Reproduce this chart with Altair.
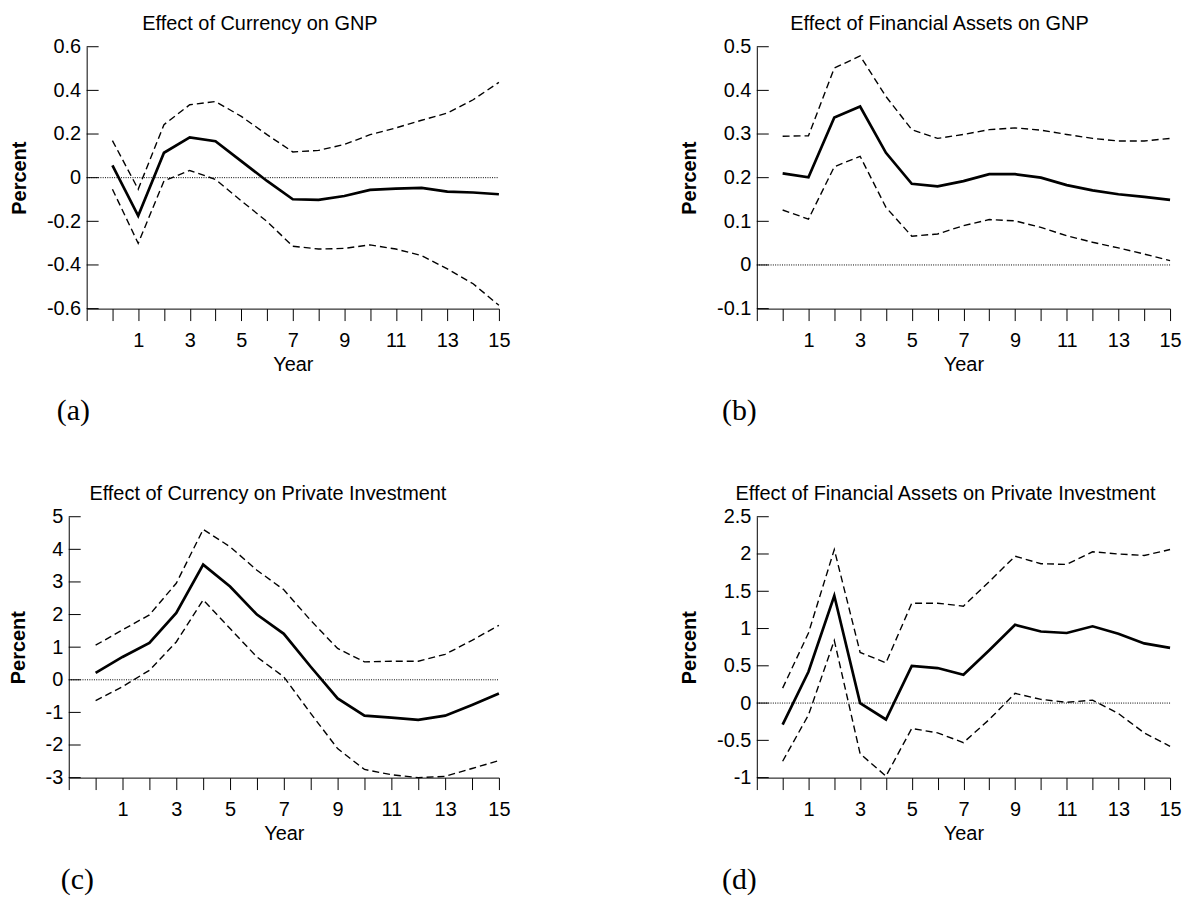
import altair as alt
import pandas as pd

YEARS = list(range(16))

A_MID = [0.056, -0.175, 0.114, 0.185, 0.167, 0.076, -0.015, -0.099, -0.102, -0.084, -0.056, -0.050, -0.047, -0.064, -0.068, -0.076]
A_HI = [0.170, -0.053, 0.243, 0.334, 0.349, 0.281, 0.197, 0.118, 0.125, 0.152, 0.197, 0.228, 0.263, 0.296, 0.357, 0.437]
A_LO = [-0.053, -0.301, -0.015, 0.033, -0.008, -0.106, -0.201, -0.314, -0.327, -0.324, -0.308, -0.327, -0.357, -0.418, -0.486, -0.585]

B_MID = [0.210, 0.201, 0.338, 0.363, 0.257, 0.186, 0.180, 0.192, 0.208, 0.208, 0.200, 0.183, 0.171, 0.162, 0.156, 0.149]
B_HI = [0.295, 0.296, 0.451, 0.479, 0.386, 0.310, 0.290, 0.299, 0.310, 0.314, 0.309, 0.299, 0.290, 0.284, 0.284, 0.290]
B_LO = [0.126, 0.105, 0.225, 0.249, 0.132, 0.066, 0.071, 0.090, 0.104, 0.101, 0.086, 0.067, 0.052, 0.039, 0.025, 0.010]

C_MID = [0.21, 0.70, 1.13, 2.05, 3.53, 2.86, 2.00, 1.41, 0.40, -0.57, -1.10, -1.16, -1.23, -1.10, -0.77, -0.42]
C_HI = [1.06, 1.53, 1.99, 2.96, 4.61, 4.08, 3.36, 2.76, 1.82, 0.96, 0.55, 0.57, 0.57, 0.78, 1.21, 1.67]
C_LO = [-0.64, -0.21, 0.29, 1.16, 2.45, 1.57, 0.70, 0.09, -1.03, -2.11, -2.75, -2.91, -3.00, -2.96, -2.72, -2.48]

D_MID = [-0.29, 0.42, 1.44, 0.00, -0.22, 0.50, 0.47, 0.38, 0.71, 1.05, 0.96, 0.94, 1.03, 0.93, 0.80, 0.74]
D_HI = [0.20, 0.94, 2.06, 0.68, 0.54, 1.34, 1.34, 1.30, 1.63, 1.97, 1.87, 1.86, 2.03, 2.00, 1.98, 2.06]
D_LO = [-0.78, -0.16, 0.84, -0.68, -0.98, -0.34, -0.40, -0.53, -0.22, 0.13, 0.05, 0.01, 0.04, -0.14, -0.40, -0.58]

A_TICKS = [-0.6, -0.4, -0.2, 0, 0.2, 0.4, 0.6]
B_TICKS = [-0.1, 0, 0.1, 0.2, 0.3, 0.4, 0.5]
C_TICKS = [-3, -2, -1, 0, 1, 2, 3, 4, 5]
D_TICKS = [-1, -0.5, 0, 0.5, 1, 1.5, 2, 2.5]
X_TICKS = list(range(-1, 16))

TITLES = [
    "Effect of Currency on GNP",
    "Effect of Financial Assets on GNP",
    "Effect of Currency on Private Investment",
    "Effect of Financial Assets on Private Investment",
]
CAPTIONS = ["(a)", "(b)", "(c)", "(d)"]

SANS = "Liberation Sans"
SERIF = "Liberation Serif"


def panel(title, title_dx, mid, lo, hi, yticks, width, height, caption, cap_x, shift=0):
    df = pd.DataFrame({"year": YEARS, "mid": mid, "lo": lo, "hi": hi})
    yscale = alt.Scale(domain=[min(yticks), max(yticks)], nice=False, zero=False)
    xscale = alt.Scale(domain=[-1, 15], nice=False, zero=False, range=[-shift, width])
    xaxis = alt.Axis(
        values=X_TICKS,
        labelExpr="datum.value % 2 == 1 ? datum.label : ''",
        title="Year",
        tickSize=12,
        labelPadding=10,
        titlePadding=4,
        grid=False,
        domainColor="black",
        tickColor="black",
        labelColor="black",
        titleColor="black",
        labelFont=SANS,
        titleFont=SANS,
        labelFontSize=20,
        titleFontSize=20,
        titleFontWeight="normal",
        labelFlush=False,
        labelOverlap=False,
    )
    yaxis = alt.Axis(
        values=yticks,
        labelExpr="(datum.value < 0 ? '-' : '') + format(abs(datum.value), '')",
        title="Percent",
        ticks=False,
        tickSize=0,
        labelPadding=6,
        titlePadding=17,
        offset=shift,
        grid=False,
        domainColor="black",
        labelColor="black",
        titleColor="black",
        labelFont=SANS,
        titleFont=SANS,
        labelFontSize=20,
        titleFontSize=20,
        titleFontWeight="bold",
        labelFlush=False,
        labelOverlap=False,
    )
    X = alt.X("year:Q", scale=xscale, axis=xaxis)
    base = alt.Chart(df)
    hi_l = base.mark_line(color="black", strokeWidth=1.4, strokeDash=[7, 4]).encode(
        x=X, y=alt.Y("hi:Q", scale=yscale, axis=yaxis))
    lo_l = base.mark_line(color="black", strokeWidth=1.4, strokeDash=[7, 4]).encode(
        x=X, y=alt.Y("lo:Q", scale=yscale, axis=yaxis))
    mid_l = base.mark_line(color="black", strokeWidth=2.7).encode(
        x=X, y=alt.Y("mid:Q", scale=yscale, axis=yaxis))
    zero = alt.Chart(pd.DataFrame({"z": [0], "x0": [-1], "x1": [15]})).mark_rule(
        color="black", strokeWidth=1, strokeDash=[1, 1.3]).encode(
        x=alt.X("x0:Q", scale=xscale, axis=xaxis), x2="x1:Q",
        y=alt.Y("z:Q", scale=yscale, axis=yaxis))
    ticks = alt.Chart(pd.DataFrame({"v": yticks})).mark_rule(
        color="black", strokeWidth=1).encode(
        y=alt.Y("v:Q", scale=yscale, axis=yaxis),
        x=alt.value(-shift), x2=alt.value(12 - shift))
    cap = alt.Chart(pd.DataFrame({"t": [caption]})).mark_text(
        font=SERIF, fontSize=30, align="left", baseline="alphabetic", color="black").encode(
        text="t:N", x=alt.value(cap_x), y=alt.value(height + 112))
    return alt.layer(zero, hi_l, lo_l, mid_l, ticks, cap).properties(
        width=width, height=height,
        title=alt.TitleParams(text=title, font=SANS, fontSize=20, fontWeight="normal",
                              color="black", anchor="middle", dx=title_dx,
                              baseline="top", offset=3),
    )


pa = panel(TITLES[0], -33, A_MID, A_LO, A_HI, A_TICKS, 414, 263, CAPTIONS[0], -30)
pb = panel(TITLES[1], -24, B_MID, B_LO, B_HI, B_TICKS, 415, 263, CAPTIONS[1], -35)
pc = panel(TITLES[2], -25, C_MID, C_LO, C_HI, C_TICKS, 414, 262, CAPTIONS[2], -26, shift=18)
pd_ = panel(TITLES[3], -18, D_MID, D_LO, D_HI, D_TICKS, 415, 262, CAPTIONS[3], -35)

chart = alt.concat(
    pa, pb, pc, pd_, columns=2, align="each",
    spacing={"row": 58, "column": 163},
).properties(
    padding={"left": 0, "top": 4, "right": 0, "bottom": 0}
).configure_view(stroke=None)

chart.save("out.html", embed_options={"renderer": "svg", "actions": False})
